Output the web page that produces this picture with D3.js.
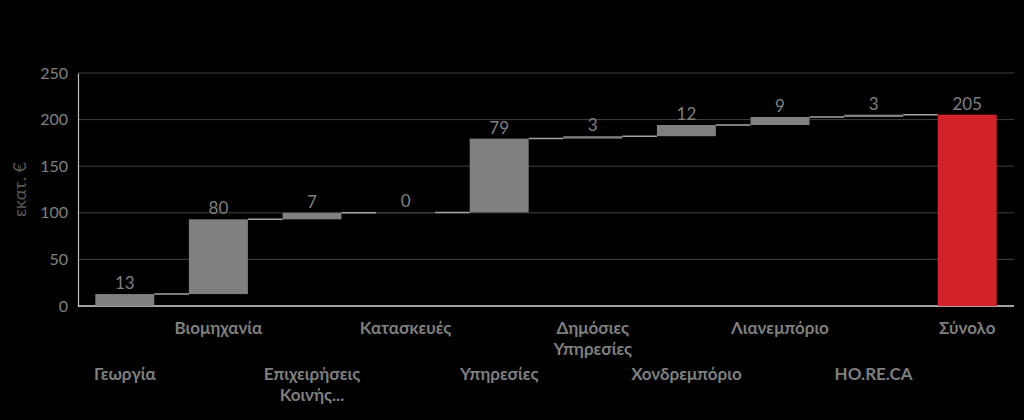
<!DOCTYPE html>
<html>
<head>
<meta charset="utf-8">
<script src="https://cdn.jsdelivr.net/npm/d3@7"></script>
<style>
  body { margin: 0; background: #000; }
  text { font-family: Lato, "Open Sans", sans-serif; }
</style>
</head>
<body>
<div id="chart"></div>
<script>
// sectors and their contribution (εκατ. €)
const categories = ["Γεωργία", "Βιομηχανία", "Επιχειρήσεις Κοινής...", "Κατασκευές", "Υπηρεσίες",
                    "Δημόσιες Υπηρεσίες", "Χονδρεμπόριο", "Λιανεμπόριο", "HO.RE.CA", "Σύνολο"];
const values = [12.8, 80.2, 7.0, 0.4, 79.2, 2.6, 12.0, 8.6, 2.5];
const totalValue = 205.3;
const yTicks = [0, 50, 100, 150, 200, 250];

const width = 1024, height = 420;
const margin = {top: 73, right: 10, bottom: 114, left: 78};

let svg = d3.select("#chart").append("svg")
    .attr("width", width)
    .attr("height", height)
    .style("background", "#000");

let x = d3.scaleBand()
    .domain(categories)
    .range([margin.left, width - margin.right])
    .paddingInner(0.37)
    .paddingOuter(0.185);

let y = d3.scaleLinear()
    .domain([0, 250])
    .range([height - margin.bottom, margin.top]);

// build steps
let steps = [];
let run = 0;
values.forEach((v, i) => {
    steps.push({name: categories[i], start: run, end: run + v, value: v, total: false});
    run += v;
});
steps.push({name: categories[9], start: 0, end: totalValue, value: totalValue, total: true});

// gridlines
svg.append("g")
    .selectAll("line")
    .data(yTicks.filter(d => d > 0))
    .enter().append("line")
    .attr("x1", margin.left)
    .attr("x2", width - margin.right)
    .attr("y1", d => y(d))
    .attr("y2", d => y(d))
    .attr("stroke", "#404040")
    .attr("stroke-width", 1);

// y axis
let yAxis = svg.append("g")
    .attr("transform", `translate(${margin.left},0)`)
    .call(d3.axisLeft(y).tickValues(yTicks).tickSize(0).tickPadding(10));
yAxis.select(".domain").attr("stroke", "#bfbfbf").attr("stroke-width", 1.2);
yAxis.selectAll("text")
    .attr("fill", "#808080")
    .style("font-size", "16px")
    .style("font-family", "Lato, sans-serif");

// baseline
svg.append("line")
    .attr("x1", margin.left)
    .attr("x2", width - margin.right)
    .attr("y1", y(0))
    .attr("y2", y(0))
    .attr("stroke", "#d9d9d9")
    .attr("stroke-width", 1.5);

svg.append("text")
    .attr("transform", `translate(26,${(y(0) + y(250)) / 2}) rotate(-90)`)
    .attr("text-anchor", "middle")
    .attr("fill", "#595959")
    .style("font-size", "18px")
    .text("εκατ. €");

// connectors
svg.append("g")
    .selectAll("line")
    .data(steps.slice(0, -1))
    .enter().append("line")
    .attr("x1", d => x(d.name) + x.bandwidth())
    .attr("x2", (d, i) => x(steps[i + 1].name))
    .attr("y1", d => y(d.end))
    .attr("y2", d => y(d.end))
    .attr("stroke", "#a6a6a6")
    .attr("stroke-width", 1.5);

// bars
svg.append("g")
    .selectAll("rect")
    .data(steps)
    .enter().append("rect")
    .attr("x", d => x(d.name))
    .attr("width", x.bandwidth())
    .attr("y", d => y(Math.max(d.start, d.end)))
    .attr("height", d => Math.max(1, Math.abs(y(d.start) - y(d.end))))
    .attr("fill", d => d.total ? "#d2232a" : (d.value < 1 ? "#404040" : "#808080"));

// value labels
svg.append("g")
    .selectAll("text")
    .data(steps)
    .enter().append("text")
    .attr("x", d => x(d.name) + x.bandwidth() / 2)
    .attr("y", d => y(Math.max(d.start, d.end)) - 5)
    .attr("text-anchor", "middle")
    .attr("fill", "#7f7f7f")
    .style("font-size", "17px")
    .text(d => Math.round(d.value));

// category labels, staggered in two rows
let lab = svg.append("g")
    .selectAll("text")
    .data(categories)
    .enter().append("text")
    .attr("x", d => x(d) + x.bandwidth() / 2)
    .attr("y", (d, i) => i % 2 === 1 ? 334 : 380)
    .attr("text-anchor", "middle")
    .attr("fill", "#7f7f7f")
    .style("font-size", "17px")
    .style("font-weight", "bold");

lab.each(function(d) {
    let words = d.split(" ");
    let el = d3.select(this);
    words.forEach((w, k) => {
        el.append("tspan")
            .attr("x", el.attr("x"))
            .attr("dy", k === 0 ? 0 : 21)
            .text(w);
    });
});
</script>
</body>
</html>
